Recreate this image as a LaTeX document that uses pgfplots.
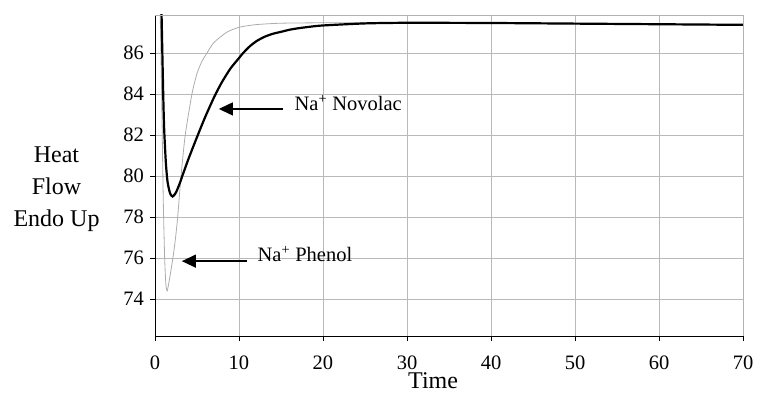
\documentclass[border=0pt]{standalone}
\usepackage{fontspec}
\setmainfont{Liberation Serif}
\usepackage{pgfplots}
\pgfplotsset{compat=1.18}
\usetikzlibrary{arrows.meta}
\begin{document}
\fontsize{20.5}{24}\selectfont
\begin{tikzpicture}
\begin{axis}[
  scale only axis,
  width=588pt, height=321pt,
  xmin=0, xmax=70, ymin=72.2, ymax=87.85,
  xtick={0,10,...,70}, ytick={74,76,...,86},
  axis x line*=bottom, axis y line*=left,
  axis line style={-, black, line width=0.9pt},
  tick align=outside, major tick length=5pt,
  tick style={black, line width=0.7pt},
  grid=major, major grid style={gray!55, line width=0.7pt},
  /pgf/number format/assume math mode=true,
  ticklabel style={font=\fontsize{20.5}{24}\selectfont},
  xticklabel style={yshift=-8pt},
  yticklabel style={xshift=1pt},
  clip mode=individual,
]
% Na+ Phenol (thin grey)
\addplot[gray!65, line width=0.8pt, smooth, tension=0.4] coordinates {
(0.55,89.5) (0.75,85.0) (0.9,81.0) (1.0,78.5) (1.15,76.0) (1.3,74.7) (1.45,74.4)
(1.65,74.8) (1.9,75.4) (2.2,76.2) (2.45,77.0) (2.7,78.0) (3.1,80.0) (3.6,82.0)
(4.4,84.0) (5.0,85.0) (5.6,85.6) (6.2,86.0) (7.0,86.5) (8.5,87.0) (10,87.25)
(12,87.38) (15,87.45) (20,87.47) (30,87.48) (40,87.46) (50,87.42) (60,87.39) (70,87.35)
};
% Na+ Novolac (thick black)
\addplot[black, line width=2.2pt, smooth, tension=0.4] coordinates {
(0.70,89.5) (0.80,87.5) (0.9,85.5) (1.0,83.6) (1.1,82.2) (1.3,80.6) (1.5,79.7)
(1.8,79.15) (2.1,79.0) (2.5,79.2) (3.0,79.7) (3.25,80.0) (4.0,80.85) (5.1,82.0)
(6.0,82.9) (7.1,83.9) (8.0,84.6) (9.0,85.25) (10.0,85.75) (10.5,86.0) (11.3,86.33) (12.1,86.58)
(13.0,86.78) (14.0,86.93) (15.1,87.04) (16,87.13) (17,87.2) (18.5,87.28) (20,87.34) (25,87.44) (30,87.47) (40,87.46)
(50,87.43) (60,87.40) (70,87.37)
};
\draw[gray!60, line width=0.7pt] (rel axis cs:0,1) -- (rel axis cs:1,1) -- (rel axis cs:1,0);
% annotations
\draw[-{Triangle[length=14pt,width=13pt]}, line width=1.3pt] (axis cs:15.2,83.27) -- (axis cs:7.6,83.27);
\node[anchor=west, inner sep=0pt] at (axis cs:16.6,83.55) {Na\textsuperscript{+} Novolac};
\draw[-{Triangle[length=14pt,width=13pt]}, line width=1.3pt] (axis cs:11.0,75.85) -- (axis cs:3.2,75.85);
\node[anchor=west, inner sep=0pt] at (axis cs:12.2,76.2) {Na\textsuperscript{+} Phenol};
\node[align=center, inner sep=0pt, font=\fontsize{24}{32}\selectfont] at (rel axis cs:-0.1675,0.456) {Heat\\Flow\\Endo Up};
\node[inner sep=0pt, font=\fontsize{24}{32}\selectfont] at (rel axis cs:0.473,-0.139) {Time};
\end{axis}
\pgfresetboundingbox
\useasboundingbox ([shift={(-155pt,-58pt)}]current axis.south west) rectangle ([shift={(17pt,15pt)}]current axis.north east);
\end{tikzpicture}
\end{document}
